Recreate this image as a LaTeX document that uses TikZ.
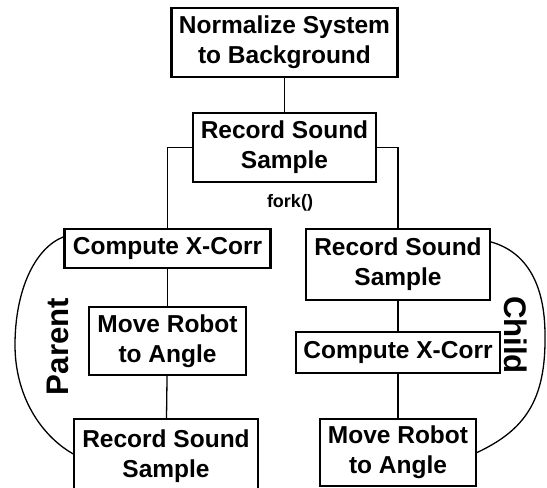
\documentclass[tikz,border=0pt]{standalone}
\usepackage{fontspec}
\setmainfont{Liberation Sans}
\begin{document}
\begin{tikzpicture}[x=1pt,y=-1pt,
  stepbox/.style={draw, line width=2.2pt, inner sep=0pt, align=center,
    font=\bfseries\fontsize{24.5}{30}\selectfont},
  conn/.style={line width=1.3pt},
  side/.style={inner sep=0pt, font=\bfseries\fontsize{31.2}{36}\selectfont}]
\useasboundingbox (0,0) rectangle (547,488);
\clip (0,0) rectangle (547,488);
% top column
\node[stepbox, minimum width=226pt, minimum height=69pt] (norm) at (284.5,42.5) {Normalize System\\to Background};
\node[stepbox, minimum width=183pt, minimum height=69pt] (rec) at (284.5,147.5) {Record Sound\\Sample};
\node[inner sep=0pt, font=\bfseries\fontsize{18}{20}\selectfont] (fork) at (290,203) {fork()};
% parent column
\node[stepbox, minimum width=206pt, minimum height=39pt] (l1) at (167.5,248.5) {Compute X-Corr};
\node[stepbox, minimum width=157pt, minimum height=68pt] (l2) at (167.5,341) {Move Robot\\to Angle};
\node[stepbox, minimum width=183.5pt, minimum height=75pt] (l3) at (166,456.5) {Record Sound\\Sample};
% child column
\node[stepbox, minimum width=183.5pt, minimum height=71pt] (r1) at (398,264.5) {Record Sound\\Sample};
\node[stepbox, minimum width=204.5pt, minimum height=41pt] (r2) at (398,352.5) {Compute X-Corr};
\node[stepbox, minimum width=156pt, minimum height=67pt] (r3) at (398,452.5) {Move Robot\\to Angle};
% side labels
\node[side, rotate=90] (parent) at (57.5,346.5) {Parent};
\node[side, rotate=-90] (child) at (516,335) {Child};
% connectors
\draw[conn] (norm) -- (rec);
\draw[conn] (rec.west) -| (l1.north);
\draw[conn] (rec.east) -| (r1.north);
\draw[conn] (l1) -- (l2);
\draw[conn] (l2) -- (l3);
\draw[conn] (r1) -- (r2);
\draw[conn] (r2) -- (r3);
% loops
\draw[conn] ([yshift=-9pt]l1.north west) .. controls (35,248) and (15,290) .. (15,345)
  .. controls (15,395) and (40,435) .. ([yshift=-36pt]l3.north west);
\draw[conn] ([yshift=-14pt]r1.north east) .. controls (527,252) and (545,285) .. (545,335)
  .. controls (546,400) and (525,430) .. (r3.east);
\end{tikzpicture}
\end{document}
